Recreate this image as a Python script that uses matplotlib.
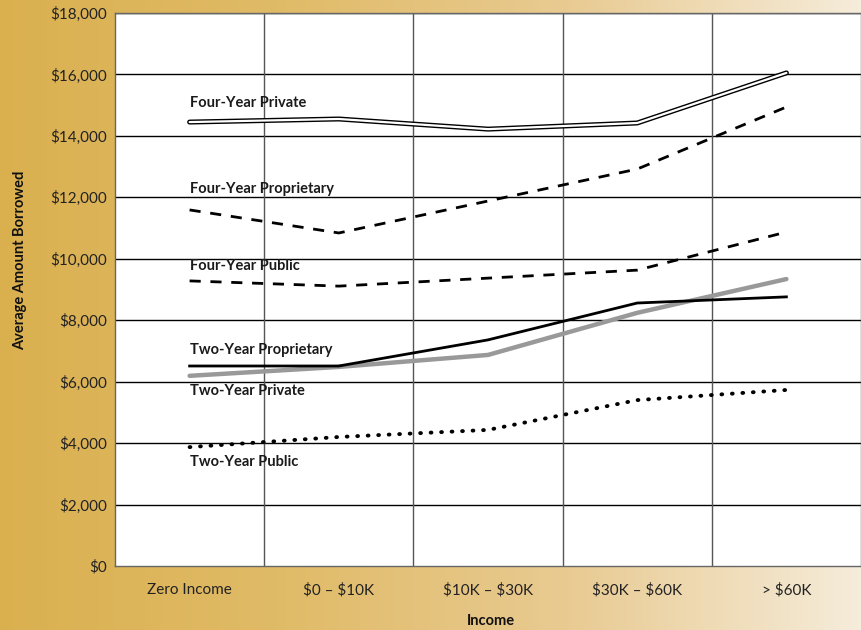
import numpy as np
import matplotlib
matplotlib.use('Agg')
import matplotlib.pyplot as plt
from matplotlib.colors import LinearSegmentedColormap
from matplotlib.ticker import FuncFormatter, MultipleLocator

plt.rcParams['font.family'] = ['Lato', 'DejaVu Sans']

# data
categories = ['Zero Income', r'\$0 – \$10K', r'\$10K – \$30K', r'\$30K – \$60K', r'> \$60K']
four_private = [14450, 14550, 14220, 14420, 16050]
four_proprietary = [11590, 10840, 11880, 12920, 14940]
four_public = [9280, 9110, 9370, 9630, 10870]
two_proprietary = [6510, 6510, 7360, 8560, 8760]
two_private = [6190, 6480, 6870, 8240, 9340]
two_public = [3870, 4200, 4430, 5400, 5730]

fig = plt.figure(figsize=(8.61, 6.30), dpi=100)

# gold to cream background
bg = fig.add_axes([0, 0, 1, 1], zorder=-10)
cmap = LinearSegmentedColormap.from_list('gold', ['#DAB04F', '#E0BB68', '#E9CB93', '#F5ECDA'])
bg.imshow(np.linspace(0, 1, 256).reshape(1, -1), aspect='auto', cmap=cmap, extent=[0, 1, 0, 1])
bg.axis('off')

ax = fig.add_axes([115/861, 1 - 566/630, 746/861, 553/630])
ax.set_facecolor('white')
x = np.arange(len(categories)) + 0.5

ax.set_xlim(0, 5)
ax.set_ylim(0, 18000)
ax.yaxis.set_major_locator(MultipleLocator(2000))
ax.yaxis.set_major_formatter(FuncFormatter(lambda v, p: r'\${:,.0f}'.format(v)))
ax.set_xticks(x)
ax.set_xticklabels(categories)
ax.tick_params(axis='both', length=0, labelsize=11, colors='#222222')
ax.tick_params(axis='x', pad=12)
ax.tick_params(axis='y', pad=6)

for yv in range(2000, 18001, 2000):
    ax.axhline(yv, color='black', lw=1.0, zorder=1)
for xv in range(1, 5):
    ax.axvline(xv, color='#555555', lw=1.0, zorder=1)
for s in ax.spines.values():
    s.set_color('#666666')
    s.set_linewidth(1.0)

# four-year private as a double line
ax.plot(x, four_private, color='black', lw=3.6, solid_capstyle='round', solid_joinstyle='round', zorder=3)
ax.plot(x, four_private, color='white', lw=1.6, solid_capstyle='round', solid_joinstyle='round', zorder=4)
ax.plot(x, four_proprietary, color='black', lw=2.0, dashes=(4, 3.5), zorder=3)
ax.plot(x, four_public, color='black', lw=2.0, dashes=(4, 3.5), zorder=3)
ax.plot(x, two_private, color='#999999', lw=3.2, solid_capstyle='round', zorder=3)
ax.plot(x, two_proprietary, color='black', lw=2.0, zorder=4)
ax.plot(x, two_public, color='black', lw=2.8, linestyle=(0, (0.2, 2.5)), dash_capstyle='round', zorder=3)

lbl = dict(fontsize=10.5, fontweight='bold', color='#1a1a1a', ha='left', va='center', zorder=5)
ax.text(0.5, 15070, 'Four-Year Private', **lbl)
ax.text(0.5, 12270, 'Four-Year Proprietary', **lbl)
ax.text(0.5, 9765, 'Four-Year Public', **lbl)
ax.text(0.5, 7030, 'Two-Year Proprietary', **lbl)
ax.text(0.5, 5700, 'Two-Year Private', **lbl)
ax.text(0.5, 3385, 'Two-Year Public', **lbl)

fig.text(0.5703, 1 - 621/630, 'Income', ha='center', va='center', fontsize=10.5, fontweight='bold', color='#111111')
fig.text(20/861, 1 - 260/630, 'Average Amount Borrowed', ha='center', va='center', rotation=90,
         fontsize=10.5, fontweight='bold', color='#111111')

fig.savefig('out.png', dpi=100)
